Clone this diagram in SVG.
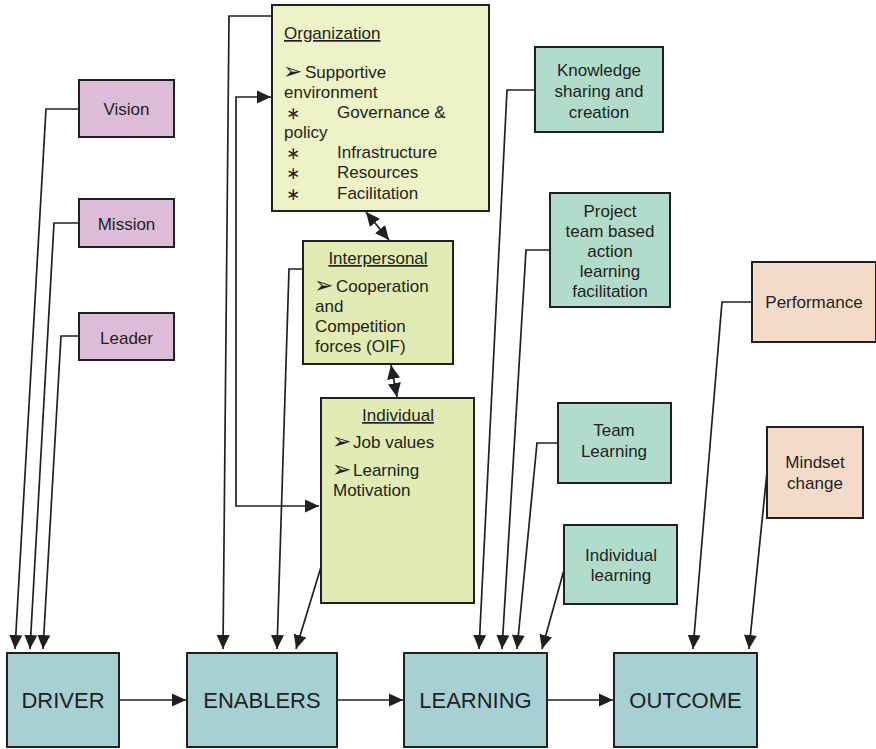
<svg xmlns="http://www.w3.org/2000/svg" width="876" height="749" viewBox="0 0 876 749">
  <defs>
    <marker id="arrow" markerUnits="userSpaceOnUse" markerWidth="15" markerHeight="14" refX="14" refY="7" orient="auto-start-reverse">
      <path d="M0,0.5 L14,7 L0,13.5 z" fill="#231f20"/>
    </marker>
    <style>
      .box { stroke: #231f20; stroke-width: 2; }
      .pink { fill: #dcbcd9; }
      .org { fill: #edf3c6; }
      .sub { fill: #e1ebb3; }
      .teal { fill: #b1dccc; }
      .main { fill: #a6d0d3; }
      .peach { fill: #f4dac8; }
      text { font-family: "Liberation Sans", Arial, sans-serif; font-size: 17px; fill: #231f20; }
      .c { text-anchor: middle; }
      .big { font-size: 22px; }
      .u { text-decoration: underline; }
      .bul { font-family: "DejaVu Sans", sans-serif; font-size: 23px; }
      .ast { font-family: "DejaVu Sans", sans-serif; font-size: 17px; }
      .conn { fill: none; stroke: #231f20; stroke-width: 1.7; }
    </style>
  </defs>

  <!-- connectors -->
  <g id="connectors">
    <path class="conn" d="M79,109 L46,109 L15,649" marker-end="url(#arrow)"/>
    <path class="conn" d="M79,223 L54,223 L30,649" marker-end="url(#arrow)"/>
    <path class="conn" d="M79,336 L61,336 L43,649" marker-end="url(#arrow)"/>
    <path class="conn" d="M272,16 L229,16 L223,649" marker-end="url(#arrow)"/>
    <path class="conn" d="M271,97 L236,97 L236,506 L319,506" marker-start="url(#arrow)" marker-end="url(#arrow)"/>
    <path class="conn" d="M303,269 L289,269 L277,649" marker-end="url(#arrow)"/>
    <path class="conn" d="M321,567 L296,649" marker-end="url(#arrow)"/>
    <path class="conn" d="M366,212 L389,240" marker-start="url(#arrow)" marker-end="url(#arrow)"/>
    <path class="conn" d="M391,365 L397,397" marker-start="url(#arrow)" marker-end="url(#arrow)"/>
    <path class="conn" d="M535,90 L507,90 L479,649" marker-end="url(#arrow)"/>
    <path class="conn" d="M550,250 L526,250 L502,649" marker-end="url(#arrow)"/>
    <path class="conn" d="M558,443 L537,443 L517,649" marker-end="url(#arrow)"/>
    <path class="conn" d="M564,570 L542,649" marker-end="url(#arrow)"/>
    <path class="conn" d="M752,302 L722,302 L693,649" marker-end="url(#arrow)"/>
    <path class="conn" d="M767,472 L749,649" marker-end="url(#arrow)"/>
    <path class="conn" d="M119,700 L186,700" marker-end="url(#arrow)"/>
    <path class="conn" d="M337,700 L403,700" marker-end="url(#arrow)"/>
    <path class="conn" d="M547,700 L613,700" marker-end="url(#arrow)"/>
  </g>

  <!-- drivers -->
  <g id="vision">
    <rect class="box pink" x="79" y="80" width="95" height="57"/>
    <text class="c" x="126.5" y="115">Vision</text>
  </g>
  <g id="mission">
    <rect class="box pink" x="79" y="199" width="95" height="48"/>
    <text class="c" x="126.5" y="230">Mission</text>
  </g>
  <g id="leader">
    <rect class="box pink" x="79" y="313" width="95" height="47"/>
    <text class="c" x="126.5" y="344">Leader</text>
  </g>

  <!-- enablers -->
  <g id="organization">
    <rect class="box org" x="272" y="5" width="217" height="206"/>
    <text class="u" x="284" y="39">Organization</text>
    <text class="bul" x="283" y="79">➢</text>
    <text x="305" y="78">Supportive</text>
    <text x="284" y="98">environment</text>
    <text class="ast" x="286" y="119">∗</text>
    <text x="337" y="118">Governance &amp;</text>
    <text x="284" y="138">policy</text>
    <text class="ast" x="286" y="159">∗</text>
    <text x="337" y="158">Infrastructure</text>
    <text class="ast" x="286" y="179">∗</text>
    <text x="337" y="178">Resources</text>
    <text class="ast" x="286" y="200">∗</text>
    <text x="337" y="199">Facilitation</text>
  </g>
  <g id="interpersonal">
    <rect class="box sub" x="303" y="241" width="150" height="123"/>
    <text class="c u" x="378" y="264">Interpersonal</text>
    <text class="bul" x="314" y="293">➢</text>
    <text x="336" y="292">Cooperation</text>
    <text x="315" y="312">and</text>
    <text x="315" y="332">Competition</text>
    <text x="315" y="352">forces (OIF)</text>
  </g>
  <g id="individual">
    <rect class="box sub" x="321" y="398" width="153" height="205"/>
    <text class="c u" x="398" y="421">Individual</text>
    <text class="bul" x="332" y="449">➢</text>
    <text x="353" y="448">Job values</text>
    <text class="bul" x="332" y="477">➢</text>
    <text x="353" y="476">Learning</text>
    <text x="333" y="496">Motivation</text>
  </g>

  <!-- learning modes -->
  <g id="knowledge">
    <rect class="box teal" x="535" y="47" width="128" height="85"/>
    <text class="c" x="599" y="76">Knowledge</text>
    <text class="c" x="599" y="97">sharing and</text>
    <text class="c" x="599" y="118">creation</text>
  </g>
  <g id="project">
    <rect class="box teal" x="550" y="193" width="120" height="114"/>
    <text class="c" x="610" y="217">Project</text>
    <text class="c" x="610" y="237">team based</text>
    <text class="c" x="610" y="257">action</text>
    <text class="c" x="610" y="277">learning</text>
    <text class="c" x="610" y="297">facilitation</text>
  </g>
  <g id="team-learning">
    <rect class="box teal" x="558" y="403" width="113" height="80"/>
    <text class="c" x="614" y="436">Team</text>
    <text class="c" x="614" y="457">Learning</text>
  </g>
  <g id="individual-learning">
    <rect class="box teal" x="564" y="525" width="113" height="79"/>
    <text class="c" x="621" y="561">Individual</text>
    <text class="c" x="621" y="581">learning</text>
  </g>

  <!-- outcomes -->
  <g id="performance">
    <rect class="box peach" x="752" y="262" width="124" height="80"/>
    <text class="c" x="814" y="308">Performance</text>
  </g>
  <g id="mindset">
    <rect class="box peach" x="767" y="427" width="96" height="91"/>
    <text class="c" x="815" y="468">Mindset</text>
    <text class="c" x="815" y="489">change</text>
  </g>

  <!-- main chain -->
  <g id="driver">
    <rect class="box main" x="7" y="653" width="112" height="94"/>
    <text class="c big" x="63" y="708">DRIVER</text>
  </g>
  <g id="enablers">
    <rect class="box main" x="187" y="653" width="150" height="94"/>
    <text class="c big" x="262" y="708">ENABLERS</text>
  </g>
  <g id="learning">
    <rect class="box main" x="404" y="653" width="143" height="94"/>
    <text class="c big" x="475.5" y="708">LEARNING</text>
  </g>
  <g id="outcome">
    <rect class="box main" x="614" y="653" width="143" height="94"/>
    <text class="c big" x="685.5" y="708">OUTCOME</text>
  </g>
</svg>
